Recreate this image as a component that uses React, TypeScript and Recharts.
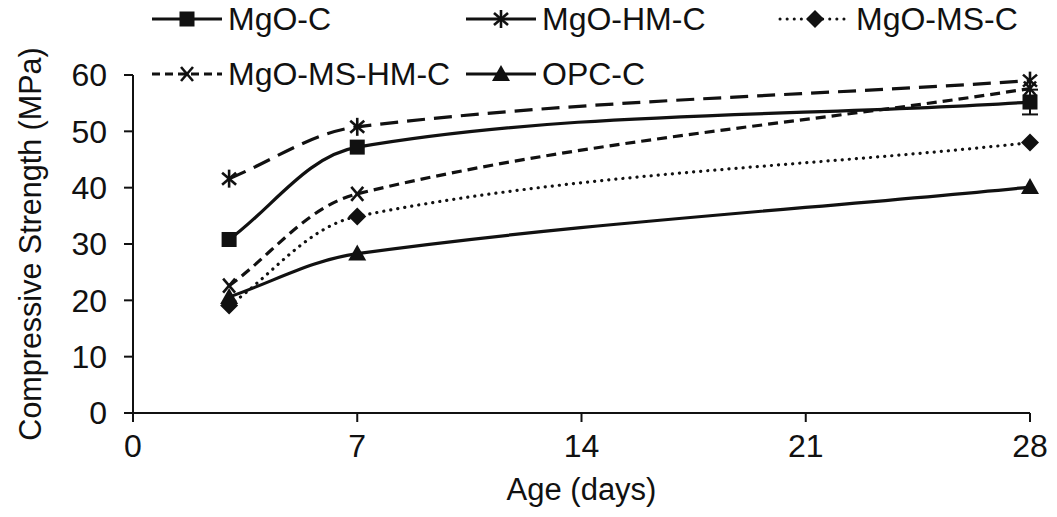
import React from 'react';
import { LineChart, Line, XAxis, YAxis, Legend, Label, ErrorBar } from 'recharts';

// Curing age (days) and compressive strength (MPa) per mix
const ages = [3, 7, 28];
const mgoC = [30.8, 47.2, 55.2];
const mgoCErr = [0, 0, 2.2];
const mgoHmC = [41.6, 50.8, 59.0];
const mgoMsC = [19.1, 34.9, 48.0];
const mgoMsHmC = [22.6, 38.9, 57.6];
const opcC = [20.6, 28.3, 40.1];

const xTicks = [0, 7, 14, 21, 28];
const yTicks = [0, 10, 20, 30, 40, 50, 60];

const data = ages.map((age, i) => ({
  age,
  mgoC: mgoC[i],
  mgoCErr: mgoCErr[i],
  mgoHmC: mgoHmC[i],
  mgoMsC: mgoMsC[i],
  mgoMsHmC: mgoMsHmC[i],
  opcC: opcC[i],
}));

const INK = '#111';
const FONT = '"Liberation Sans", Arial, sans-serif';

// Smoothed line: cubic Bezier segments whose tangents follow the
// neighbouring points, scaled by chord length (spreadsheet-style smoothing).
function smoothCurve(context: any) {
  let pts: [number, number][] = [];
  const dist = (a: [number, number], b: [number, number]) =>
    Math.hypot(b[0] - a[0], b[1] - a[1]);
  return {
    areaStart() {},
    areaEnd() {},
    lineStart() {
      pts = [];
    },
    point(x: number, y: number) {
      pts.push([+x, +y]);
    },
    lineEnd() {
      const n = pts.length;
      if (n === 0) return;
      context.moveTo(pts[0][0], pts[0][1]);
      if (n === 1) return;
      const tan = pts.map((p, i) => {
        const prev = pts[Math.max(0, i - 1)];
        const next = pts[Math.min(n - 1, i + 1)];
        const d = dist(prev, p) + dist(p, next);
        return d === 0 ? [0, 0] : [(next[0] - prev[0]) / d, (next[1] - prev[1]) / d];
      });
      for (let i = 0; i < n - 1; i++) {
        const a = pts[i];
        const b = pts[i + 1];
        const L = dist(a, b) / 3;
        context.bezierCurveTo(
          a[0] + tan[i][0] * L,
          a[1] + tan[i][1] * L,
          b[0] - tan[i + 1][0] * L,
          b[1] - tan[i + 1][1] * L,
          b[0],
          b[1]
        );
      }
    },
  };
}

type MarkerKind = 'square' | 'star' | 'diamond' | 'cross' | 'triangle';

function Marker({ kind, cx, cy }: { kind: MarkerKind; cx: number; cy: number }) {
  switch (kind) {
    case 'square':
      return <rect x={cx - 7.5} y={cy - 7.5} width={15} height={15} fill={INK} />;
    case 'diamond':
      return (
        <polygon
          points={`${cx},${cy - 9} ${cx + 9},${cy} ${cx},${cy + 9} ${cx - 9},${cy}`}
          fill={INK}
        />
      );
    case 'triangle':
      return (
        <polygon
          points={`${cx},${cy - 9} ${cx + 9},${cy + 7} ${cx - 9},${cy + 7}`}
          fill={INK}
        />
      );
    case 'star':
      return (
        <g stroke={INK} strokeWidth={2.6}>
          <line x1={cx} y1={cy - 9} x2={cx} y2={cy + 9} />
          <line x1={cx - 7} y1={cy - 6} x2={cx + 7} y2={cy + 6} />
          <line x1={cx - 7} y1={cy + 6} x2={cx + 7} y2={cy - 6} />
        </g>
      );
    case 'cross':
    default:
      return (
        <g stroke={INK} strokeWidth={2.6}>
          <line x1={cx - 6} y1={cy - 7} x2={cx + 6} y2={cy + 7} />
          <line x1={cx - 6} y1={cy + 7} x2={cx + 6} y2={cy - 7} />
        </g>
      );
  }
}

const dotFor = (kind: MarkerKind, name: string) => (props: any) => {
  const { cx, cy, index } = props;
  if (cx == null || cy == null) return <g key={`${name}-${index}`} />;
  return (
    <g key={`${name}-${index}`}>
      <Marker kind={kind} cx={cx} cy={cy} />
    </g>
  );
};

const series = [
  { key: 'mgoC', name: 'MgO-C', kind: 'square' as MarkerKind, dash: undefined as string | undefined, legendDash: undefined as string | undefined, cap: 'butt' },
  { key: 'mgoHmC', name: 'MgO-HM-C', kind: 'star' as MarkerKind, dash: '18 9', legendDash: undefined, cap: 'butt' },
  { key: 'mgoMsC', name: 'MgO-MS-C', kind: 'diamond' as MarkerKind, dash: '0.1 7', legendDash: '0.1 7', cap: 'round' },
  { key: 'mgoMsHmC', name: 'MgO-MS-HM-C', kind: 'cross' as MarkerKind, dash: '10 6', legendDash: '8 5', cap: 'butt' },
  { key: 'opcC', name: 'OPC-C', kind: 'triangle' as MarkerKind, dash: undefined, legendDash: undefined, cap: 'butt' },
];

// legend slots: [column x, row y]
const legendSlots: [number, number][] = [
  [152, 19],
  [466, 19],
  [780, 19],
  [152, 74],
  [466, 74],
];

function LegendBlock() {
  return (
    <svg width={1057} height={100} style={{ display: 'block' }}>
      {series.map((s, i) => {
        const [x0, y0] = legendSlots[i];
        return (
          <g key={s.key}>
            <line
              x1={x0}
              y1={y0}
              x2={x0 + 70}
              y2={y0}
              stroke={INK}
              strokeWidth={3}
              strokeDasharray={s.legendDash}
              strokeLinecap={s.cap as any}
            />
            <Marker kind={s.kind} cx={x0 + 35} cy={y0} />
            <text
              x={x0 + 76}
              y={y0}
              dominantBaseline="central"
              fontFamily={FONT}
              fontSize={32}
              fill={INK}
            >
              {s.name}
            </text>
          </g>
        );
      })}
    </svg>
  );
}

export default function App() {
  return (
    <div
      style={{
        position: 'absolute',
        left: 0,
        top: 0,
        width: 1057,
        height: 517,
        background: '#fff',
        fontFamily: FONT,
      }}
    >
      <LineChart
        width={1057}
        height={517}
        data={data}
        margin={{ top: 75, right: 27, bottom: 4, left: 0 }}
      >
        <XAxis
          type="number"
          dataKey="age"
          domain={[0, 28]}
          ticks={xTicks}
          interval={0}
          height={100}
          tickSize={9}
          tickMargin={12}
          axisLine={{ stroke: INK, strokeWidth: 2 }}
          tickLine={{ stroke: INK, strokeWidth: 2 }}
          tick={{ fill: INK, fontSize: 32, fontFamily: FONT }}
        >
          <Label
            value="Age (days)"
            position="insideBottom"
            offset={13}
            style={{ fill: INK, fontSize: 31, fontFamily: FONT, textAnchor: 'middle' }}
          />
        </XAxis>
        <YAxis
          type="number"
          domain={[0, 60]}
          ticks={yTicks}
          interval={0}
          width={133}
          tickSize={9}
          tickMargin={17}
          axisLine={{ stroke: INK, strokeWidth: 2 }}
          tickLine={{ stroke: INK, strokeWidth: 2 }}
          tick={{ fill: INK, fontSize: 32, fontFamily: FONT }}
        >
          <Label
            value="Compressive Strength (MPa)"
            angle={-90}
            position="insideLeft"
            offset={30}
            style={{ fill: INK, fontSize: 30.5, fontFamily: FONT, textAnchor: 'middle' }}
          />
        </YAxis>
        <Legend
          layout="horizontal"
          verticalAlign="middle"
          align="center"
          wrapperStyle={{ position: 'absolute', left: 0, top: 0, width: 1057, height: 100 }}
          content={() => <LegendBlock />}
        />
        {series.map((s) => (
          <Line
            key={s.key}
            type={smoothCurve as any}
            dataKey={s.key}
            name={s.name}
            stroke={INK}
            strokeWidth={3.2}
            strokeDasharray={s.dash}
            strokeLinecap={s.cap as any}
            dot={dotFor(s.kind, s.key)}
            activeDot={false}
            isAnimationActive={false}
          >
            {s.key === 'mgoC' ? (
              <ErrorBar dataKey="mgoCErr" width={8} stroke={INK} strokeWidth={2} direction="y" />
            ) : null}
          </Line>
        ))}
      </LineChart>
    </div>
  );
}
